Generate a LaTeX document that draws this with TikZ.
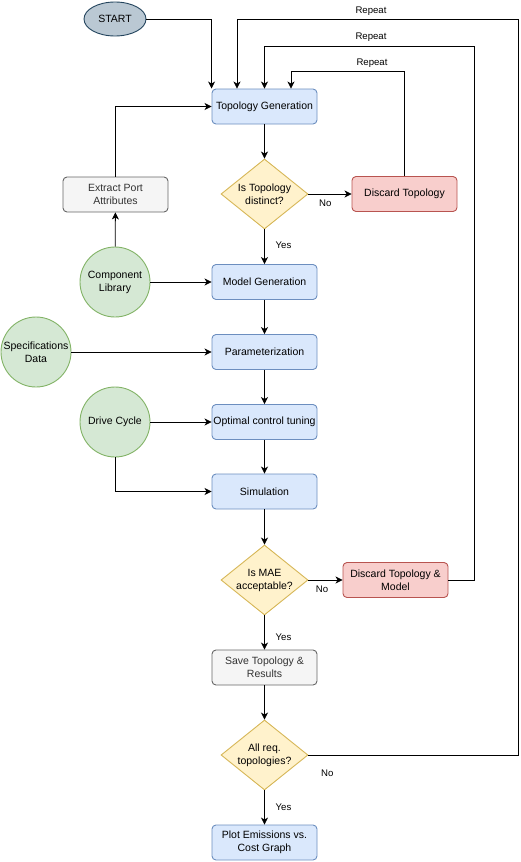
\documentclass[tikz,border=0pt]{standalone}
\usepackage{fontspec}
\setmainfont{Liberation Sans}
\usetikzlibrary{shapes.geometric,arrows.meta}
\definecolor{procfill}{HTML}{DAE8FC}
\definecolor{procline}{HTML}{6C8EBF}
\definecolor{askfill}{HTML}{FFF2CC}
\definecolor{askline}{HTML}{D6B656}
\definecolor{dropfill}{HTML}{F8CECC}
\definecolor{dropline}{HTML}{B85450}
\definecolor{srcfill}{HTML}{D5E8D4}
\definecolor{srcline}{HTML}{82B366}
\definecolor{notefill}{HTML}{F5F5F5}
\definecolor{noteline}{HTML}{666666}
\definecolor{notetext}{HTML}{333333}
\definecolor{startfill}{HTML}{BAC8D3}
\definecolor{startline}{HTML}{23445D}
\begin{document}
\begin{tikzpicture}[x=1pt,y=-1pt,font=\fontsize{10.5}{13}\selectfont]
	\tikzstyle{every node}+=[inner sep=0pt, align=center]
	\tikzstyle{box}=[draw, rounded corners=4pt, line width=0.9pt, minimum width=105pt, minimum height=35pt]
	\tikzstyle{proc}=[box, fill=procfill, draw=procline]
	\tikzstyle{drop}=[box, fill=dropfill, draw=dropline]
	\tikzstyle{note}=[box, fill=notefill, draw=noteline, text=notetext]
	\tikzstyle{ask}=[diamond, draw=askline, fill=askfill, line width=0.9pt, aspect=1.24, minimum width=87pt, minimum height=70pt]
	\tikzstyle{src}=[circle, draw=srcline, fill=srcfill, line width=0.9pt, minimum size=70pt]
	\tikzstyle{startnode}=[ellipse, draw=startline, fill=startfill, line width=0.9pt, minimum width=62pt, minimum height=34pt]
	\tikzstyle{lbl}=[font=\fontsize{9.6}{11}\selectfont]
	\tikzstyle{flow}=[black, line width=0.8pt, -{Stealth[length=7pt, width=7pt, inset=2pt]}]
	\useasboundingbox (0,0) rectangle (520,862);
	\node [startnode] (start) at (115,19) {START};
	\node [proc] (tg) at (264.5,106.5) {Topology Generation};
	\node [ask] (dist) at (264.5,194) {Is Topology\\distinct?};
	\node [drop] (disc) at (404.5,194) {Discard Topology};
	\node [note] (epa) at (115.5,194.5) {Extract Port\\Attributes};
	\node [src] (cl) at (115,282) {Component\\Library};
	\node [proc] (mg) at (264.5,282) {Model Generation};
	\node [src] (sd) at (36,352) {Specifications\\Data};
	\node [proc] (par) at (264.5,352) {Parameterization};
	\node [src] (dc) at (115,422) {Drive Cycle};
	\node [proc] (oct) at (264.5,422) {Optimal control tuning};
	\node [proc] (sim) at (264.5,491.5) {Simulation};
	\node [ask] (mae) at (264.5,580) {Is MAE\\acceptable?};
	\node [drop] (dtm) at (395.5,580) {Discard Topology \&\\Model};
	\node [note] (save) at (264.5,667.5) {Save Topology \&\\Results};
	\node [ask] (req) at (264.5,755) {All req.\\topologies?};
	\node [proc] (plot) at (264.5,842.5) {Plot Emissions vs.\\Cost Graph};
	\node [lbl] (rep1) at (371,11) {Repeat};
	\node [lbl] (rep2) at (371,37) {Repeat};
	\node [lbl] (rep3) at (372,63) {Repeat};
	\draw [flow] (start.east) -| (tg.north west);
	\draw [flow] (tg) -- (dist);
	\draw [flow] (dist) -- node [lbl, pos=0.47, xshift=19pt] {Yes} (mg);
	\draw [flow] (dist.east) -- node [lbl, pos=0.39, yshift=-9pt] {No} (disc.west);
	\draw [flow] (disc.north) -- ++(0,-105) -| ([xshift=26.5pt]tg.north);
	\draw [flow] (epa.north) |- (tg.west);
	\draw [flow] (cl) -- (epa);
	\draw [flow] (cl.east) -- (mg.west);
	\draw [flow] (sd.east) -- (par.west);
	\draw [flow] (dc.east) -- (oct.west);
	\draw [flow] (dc.south) |- (sim.west);
	\draw [flow] (mg) -- (par);
	\draw [flow] (par) -- (oct);
	\draw [flow] (oct) -- (sim);
	\draw [flow] (sim) -- (mae);
	\draw [flow] (mae.east) -- node [lbl, pos=0.4, yshift=-9pt] {No} (dtm.west);
	\draw [flow] (dtm.east) -| (474,46) -| (tg.north);
	\draw [flow] (mae) -- node [lbl, pos=0.63, xshift=19pt] {Yes} (save);
	\draw [flow] (save) -- (req);
	\draw [flow] (req) -- node [lbl, pos=0.49, xshift=19pt] {Yes} (plot);
	\draw [flow] (req.east) -- node [lbl, pos=0.09, yshift=-18pt] {No} (518,755) -- (518,19) -| ([xshift=-27.5pt]tg.north);
\end{tikzpicture}
\end{document}
